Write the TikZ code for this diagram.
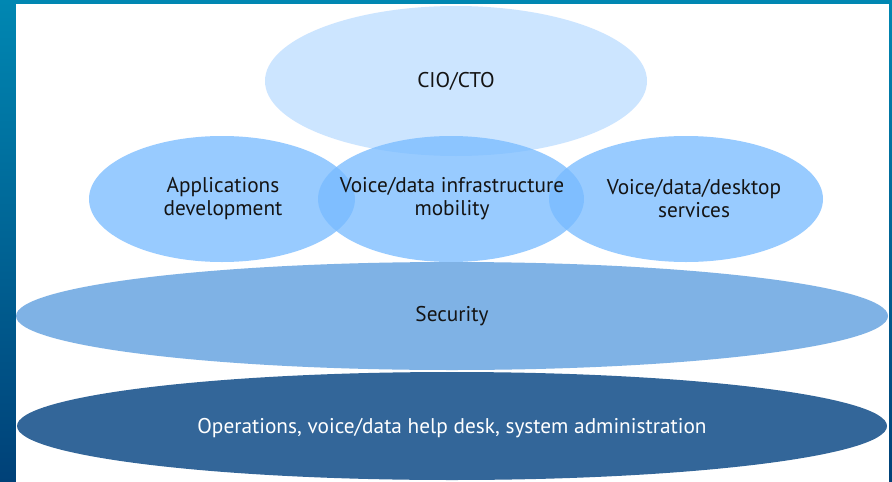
\documentclass[tikz,border=0pt]{standalone}
\usepackage{fontspec}
\setmainfont{PT Sans}
\usetikzlibrary{shapes.geometric}
\definecolor{frameA}{RGB}{0,135,178}
\definecolor{frameB}{RGB}{0,65,120}
\definecolor{cio}{RGB}{204,229,255}
\definecolor{mid}{RGB}{120,187,255}
\definecolor{sec}{RGB}{127,178,229}
\definecolor{ops}{RGB}{51,102,153}
\definecolor{txt}{RGB}{20,20,20}
\begin{document}
\begin{tikzpicture}[x=1pt,y=-1pt,
  oval/.style={ellipse,inner sep=0pt},
  label/.style={align=center,font=\fontsize{21.3}{23}\selectfont,text=txt,inner sep=0pt},
  midoval/.style={oval,fill=mid,fill opacity=0.755,minimum width=266pt,minimum height=126pt}]
\useasboundingbox (0,0) rectangle (892,482);
\shade[top color=frameA,bottom color=frameB] (0,0) rectangle (892,482);
\fill[white] (16,4) rectangle (889,482);
\node[oval,fill=cio,minimum width=382pt,minimum height=150pt] (cio) at (456,81) {};
\node[midoval] (app) at (222,199) {};
\node[midoval] (infra) at (451,199) {};
\node[midoval,minimum width=274pt] (desk) at (686,199) {};
\node[oval,fill=sec,minimum width=872pt,minimum height=108pt] (sec) at (452,316) {};
\node[oval,fill=ops,minimum width=870pt,minimum height=108pt] (ops) at (452,426) {};
\node[label] (tcio) at (cio) {CIO/CTO};
\node[label] (tapp) at ([xshift=1pt]app.center) {Applications\\development};
\node[label] (tinfra) at ([xshift=1pt]infra.center) {Voice/data infrastructure\\mobility};
\node[label] (tdesk) at ([xshift=8pt]desk.center) {Voice/data/desktop\\services};
\node[label] (tsec) at (sec) {Security};
\node[label,text=white] (tops) at ([yshift=-2pt]ops.center) {Operations, voice/data help desk, system administration};
\end{tikzpicture}
\end{document}
